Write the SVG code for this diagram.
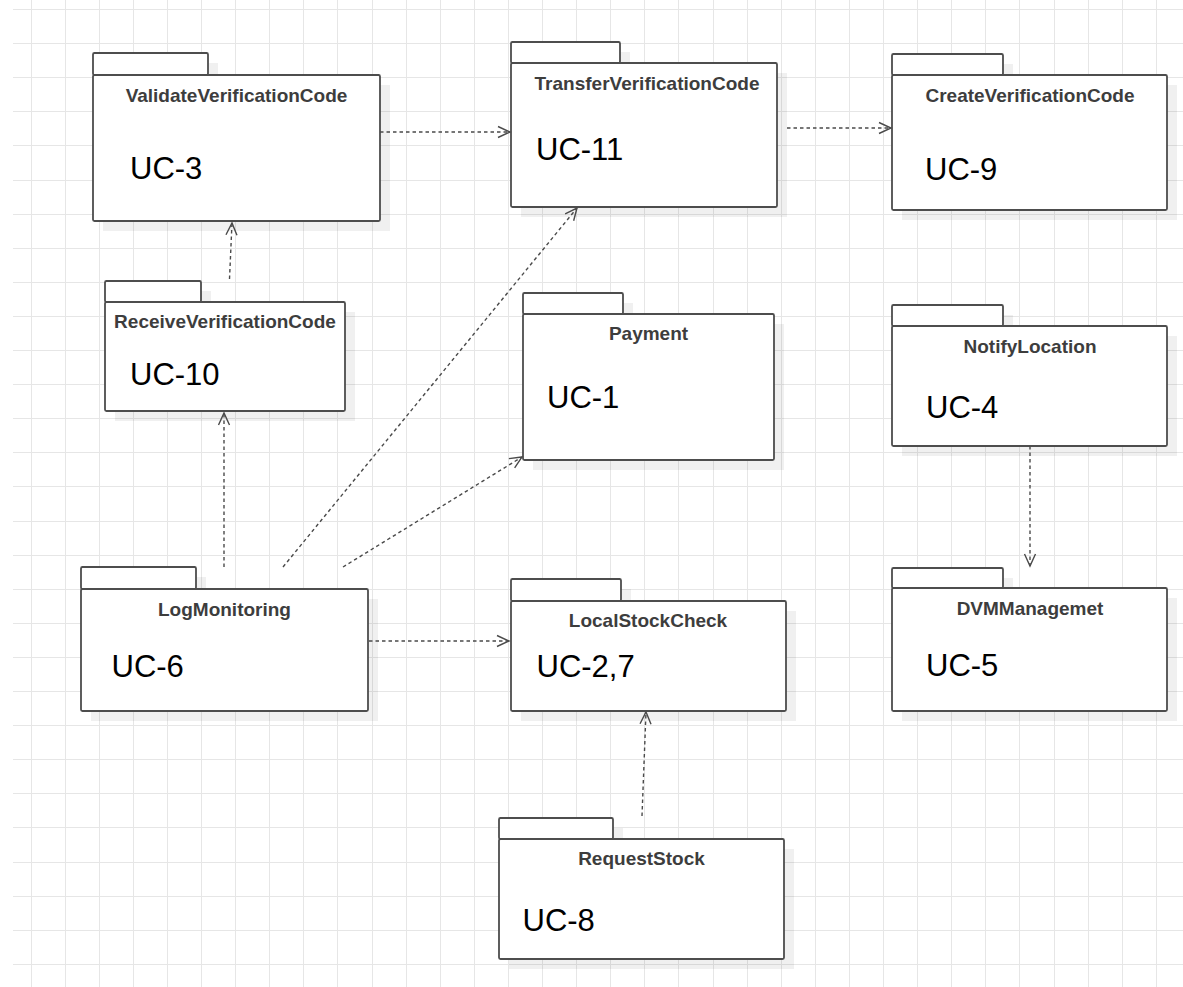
<svg xmlns="http://www.w3.org/2000/svg" width="1183" height="987" viewBox="0 0 1183 987">
  <style>
    .grid { stroke: #e6e6e6; stroke-width: 1; fill: none; }
    .shadow { fill: #000; fill-opacity: 0.06; }
    .pkg { fill: #fff; stroke: #4d4d4d; stroke-width: 1.8; }
    .title { font-family: "Liberation Sans", Arial, sans-serif; font-weight: bold; font-size: 19px; fill: #3d3d3d; text-anchor: middle; }
    .uc { font-family: "Liberation Sans", Arial, sans-serif; font-size: 31px; fill: #000; }
    .dep { fill: none; stroke: #4a4a4a; stroke-width: 1.4; stroke-dasharray: 3.5 3; marker-end: url(#open); }
  </style>
  <defs>
    <marker id="open" markerUnits="userSpaceOnUse" markerWidth="16" markerHeight="14" refX="0" refY="0" orient="auto" overflow="visible">
      <path d="M-12,-5.5 L0,0 L-12,5.5" fill="none" stroke="#4a4a4a" stroke-width="1.4"/>
    </marker>
  </defs>

  <rect width="1183" height="987" fill="#fff"/>

  <!-- background grid -->
  <g id="grid" class="grid">
    <path d="M31.5,0V987M65.5,0V987M99.5,0V987M133.5,0V987M167.5,0V987M201.5,0V987M235.5,0V987M269.5,0V987M303.5,0V987M337.5,0V987M372.5,0V987M406.5,0V987M440.5,0V987M474.5,0V987M508.5,0V987M542.5,0V987M576.5,0V987M610.5,0V987M644.5,0V987M678.5,0V987M713.5,0V987M747.5,0V987M781.5,0V987M815.5,0V987M849.5,0V987M883.5,0V987M917.5,0V987M951.5,0V987M985.5,0V987M1019.5,0V987M1054.5,0V987M1088.5,0V987M1122.5,0V987M1156.5,0V987"/>
    <path d="M13,9.5H1183M13,43.5H1183M13,77.5H1183M13,111.5H1183M13,145.5H1183M13,180.5H1183M13,214.5H1183M13,248.5H1183M13,282.5H1183M13,316.5H1183M13,350.5H1183M13,384.5H1183M13,418.5H1183M13,452.5H1183M13,486.5H1183M13,521.5H1183M13,555.5H1183M13,589.5H1183M13,623.5H1183M13,657.5H1183M13,691.5H1183M13,725.5H1183M13,759.5H1183M13,793.5H1183M13,827.5H1183M13,862.5H1183M13,896.5H1183M13,930.5H1183M13,964.5H1183"/>
  </g>

  <!-- packages -->
  <g id="ValidateVerificationCode">
    <rect class="shadow" x="103" y="63" width="115" height="22"/>
    <rect class="shadow" x="103" y="85" width="287" height="146"/>
    <rect class="pkg" x="93" y="53" width="115" height="22" rx="1.5"/>
    <rect class="pkg" x="93" y="75" width="287" height="146" rx="1.5"/>
    <text class="title" x="236.5" y="102">ValidateVerificationCode</text>
    <text class="uc" x="130" y="179">UC-3</text>
  </g>

  <g id="TransferVerificationCode">
    <rect class="shadow" x="521" y="52" width="109" height="21"/>
    <rect class="shadow" x="521" y="73" width="266" height="144"/>
    <rect class="pkg" x="511" y="42" width="109" height="21" rx="1.5"/>
    <rect class="pkg" x="511" y="63" width="266" height="144" rx="1.5"/>
    <text class="title" x="647" y="89.5">TransferVerificationCode</text>
    <text class="uc" x="536" y="160">UC-11</text>
  </g>

  <g id="CreateVerificationCode">
    <rect class="shadow" x="902" y="64" width="111" height="21"/>
    <rect class="shadow" x="902" y="85" width="275" height="135"/>
    <rect class="pkg" x="892" y="54" width="111" height="21" rx="1.5"/>
    <rect class="pkg" x="892" y="75" width="275" height="135" rx="1.5"/>
    <text class="title" x="1030" y="101.5">CreateVerificationCode</text>
    <text class="uc" x="925" y="180">UC-9</text>
  </g>

  <g id="ReceiveVerificationCode">
    <rect class="shadow" x="115" y="291" width="96" height="21"/>
    <rect class="shadow" x="115" y="312" width="240" height="109"/>
    <rect class="pkg" x="105" y="281" width="96" height="21" rx="1.5"/>
    <rect class="pkg" x="105" y="302" width="240" height="109" rx="1.5"/>
    <text class="title" x="225" y="328">ReceiveVerificationCode</text>
    <text class="uc" x="130" y="385">UC-10</text>
  </g>

  <g id="Payment">
    <rect class="shadow" x="533" y="303" width="100" height="21"/>
    <rect class="shadow" x="533" y="324" width="251" height="146"/>
    <rect class="pkg" x="523" y="293" width="100" height="21" rx="1.5"/>
    <rect class="pkg" x="523" y="314" width="251" height="146" rx="1.5"/>
    <text class="title" x="648.5" y="340">Payment</text>
    <text class="uc" x="547" y="407.5">UC-1</text>
  </g>

  <g id="NotifyLocation">
    <rect class="shadow" x="902" y="315" width="111" height="21"/>
    <rect class="shadow" x="902" y="336" width="275" height="120"/>
    <rect class="pkg" x="892" y="305" width="111" height="21" rx="1.5"/>
    <rect class="pkg" x="892" y="326" width="275" height="120" rx="1.5"/>
    <text class="title" x="1030" y="352.5">NotifyLocation</text>
    <text class="uc" x="926" y="418">UC-4</text>
  </g>

  <g id="DVMManagemet">
    <rect class="shadow" x="902" y="578" width="111" height="20"/>
    <rect class="shadow" x="902" y="598" width="275" height="123"/>
    <rect class="pkg" x="892" y="568" width="111" height="20" rx="1.5"/>
    <rect class="pkg" x="892" y="588" width="275" height="123" rx="1.5"/>
    <text class="title" x="1030" y="615">DVMManagemet</text>
    <text class="uc" x="926" y="676">UC-5</text>
  </g>

  <g id="LogMonitoring">
    <rect class="shadow" x="91" y="577" width="115" height="22"/>
    <rect class="shadow" x="91" y="599" width="287" height="122"/>
    <rect class="pkg" x="81" y="567" width="115" height="22" rx="1.5"/>
    <rect class="pkg" x="81" y="589" width="287" height="122" rx="1.5"/>
    <text class="title" x="224.5" y="615.5">LogMonitoring</text>
    <text class="uc" x="111.5" y="676.5">UC-6</text>
  </g>

  <g id="LocalStockCheck">
    <rect class="shadow" x="521" y="589" width="110" height="22"/>
    <rect class="shadow" x="521" y="611" width="275" height="110"/>
    <rect class="pkg" x="511" y="579" width="110" height="22" rx="1.5"/>
    <rect class="pkg" x="511" y="601" width="275" height="110" rx="1.5"/>
    <text class="title" x="648" y="626.5">LocalStockCheck</text>
    <text class="uc" x="536.5" y="676.5">UC-2,7</text>
  </g>

  <g id="RequestStock">
    <rect class="shadow" x="509" y="828" width="114" height="21"/>
    <rect class="shadow" x="509" y="849" width="285" height="120"/>
    <rect class="pkg" x="499" y="818" width="114" height="21" rx="1.5"/>
    <rect class="pkg" x="499" y="839" width="285" height="120" rx="1.5"/>
    <text class="title" x="641.5" y="864.5">RequestStock</text>
    <text class="uc" x="522.5" y="930.5">UC-8</text>
  </g>

  <!-- dependency arrows -->
  <g id="connectors">
    <path class="dep" d="M380,132 L510,132"/>
    <path class="dep" d="M787,128 L891,128"/>
    <path class="dep" d="M229.5,279 L232,223"/>
    <path class="dep" d="M224,567 L224,413"/>
    <path class="dep" d="M283,567 L577,208"/>
    <path class="dep" d="M343,567 L522,457"/>
    <path class="dep" d="M369,641 L509,641"/>
    <path class="dep" d="M1030,446 L1030,566"/>
    <path class="dep" d="M642,816 L646,712"/>
  </g>
</svg>
